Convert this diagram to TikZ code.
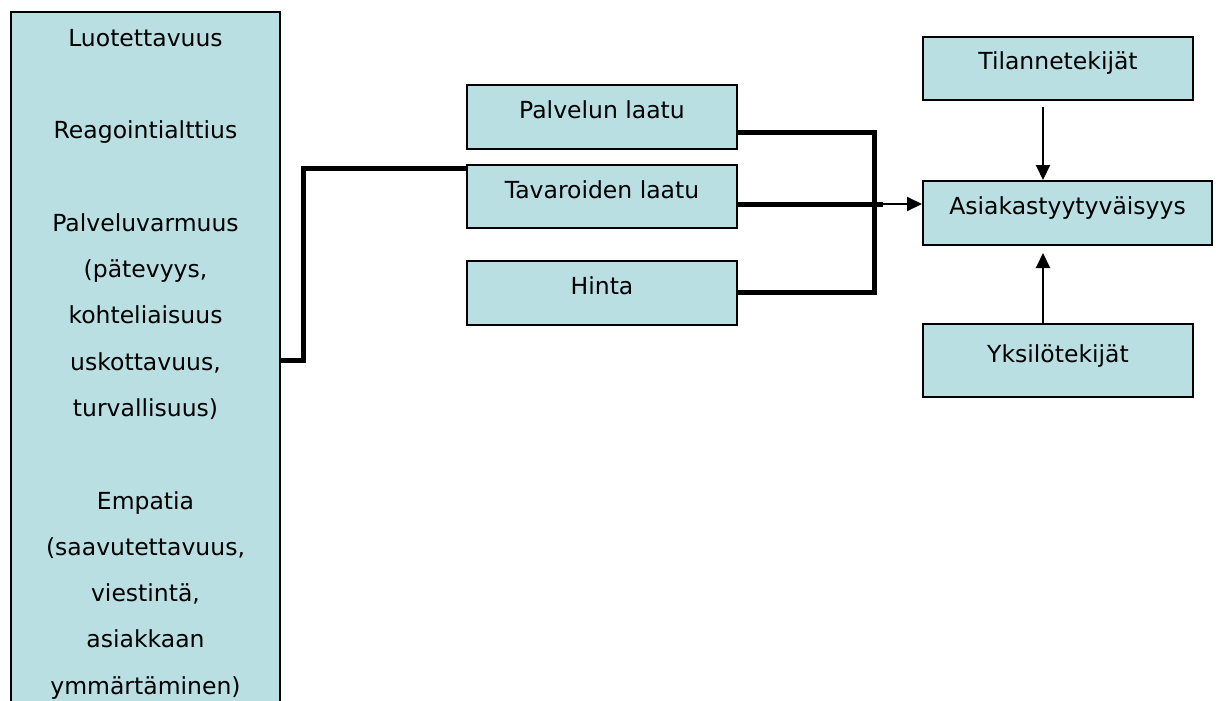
\documentclass[tikz,border=0pt]{standalone}
\usepackage{fontspec}
\setmainfont{DejaVu Sans}
\usetikzlibrary{arrows.meta}
\definecolor{boxfill}{RGB}{186,223,226}
\begin{document}
\begin{tikzpicture}[x=1pt,y=-1pt,
  boxnode/.style={draw=black, fill=boxfill, line width=2pt, inner sep=0pt,
    font=\fontsize{23.5}{28}\selectfont, anchor=north west, text height=33pt},
  busline/.style={line width=5pt, line cap=butt},
  arrline/.style={line width=2pt, -{Triangle[length=15pt,width=14pt]}}]
\useasboundingbox (0,0) rectangle (1216,701);
% left box
\node (left) [draw=black, fill=boxfill, line width=2pt, inner sep=0pt, anchor=north west] at (10,11)
  {\parbox[c][720pt][t]{269pt}{\centering\fontsize{23.5}{46.3}\selectfont
   \rule{0pt}{34pt}Luotettavuus\\[46.3pt]
   Reagointialttius\\[46.3pt]
   Palveluvarmuus\\
   (pätevyys,\\
   kohteliaisuus\\
   uskottavuus,\\
   turvallisuus)\\[46.3pt]
   Empatia\\
   (saavutettavuus,\\
   viestintä,\\
   asiakkaan\\
   ymmärtäminen)\par}};
% middle boxes
\node (pal) [boxnode, minimum width=270pt, text depth=31pt] at (466,84) {Palvelun laatu};
\node (tav) [boxnode, minimum width=270pt, text depth=30pt] at (466,164) {Tavaroiden laatu};
\node (hin) [boxnode, minimum width=270pt, text depth=31pt] at (466,260) {Hinta};
% right boxes
\node (til) [boxnode, minimum width=270pt, text depth=30pt] at (922,36) {Tilannetekijät};
\node (asi) [boxnode, minimum width=289pt, text depth=31pt] at (922,180) {Asiakastyytyväisyys};
\node (yks) [boxnode, minimum width=270pt, text height=38pt, text depth=35pt] at (922,323) {Yksilötekijät};
% connectors
\coordinate (lbend) at (303,168);
\draw[busline] (left.east |- 0,360) -| (lbend) -- (tav.west |- lbend);
\coordinate (rbus) at (874,132);
\draw[busline] (pal.east |- rbus) -| (874,292) -- (hin.east |- 0,292);
\coordinate (tj) at (883,204);
\draw[busline] (tav.east |- tj) -- (tj);
\draw[arrline] (tj) -- (asi.west |- tj);
\coordinate (ta) at (1043,107);
\draw[arrline] (ta) -- (asi.north -| ta);
\coordinate (ba) at (1043,253);
\draw[arrline] (yks.north -| ba) -- (ba);
\end{tikzpicture}
\end{document}
